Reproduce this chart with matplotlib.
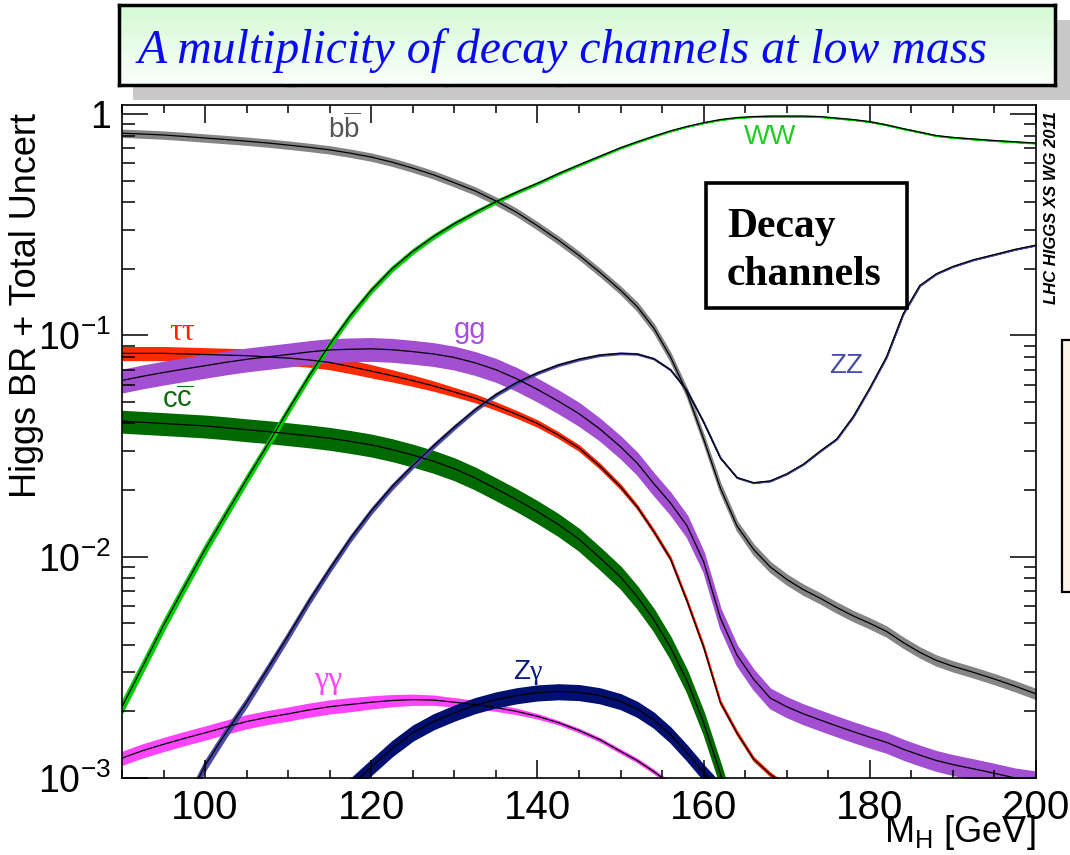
import numpy as np
import matplotlib
matplotlib.use("Agg")
import matplotlib.pyplot as plt
from matplotlib.colors import LinearSegmentedColormap
from matplotlib.patches import Rectangle
from matplotlib.ticker import MultipleLocator, LogLocator, NullFormatter

plt.rcParams["font.family"] = ["Liberation Sans", "DejaVu Sans"]
plt.rcParams["mathtext.fontset"] = "custom"
plt.rcParams["mathtext.rm"] = "Liberation Serif"
plt.rcParams["mathtext.sf"] = "Liberation Sans"

nan = np.nan

# Higgs mass grid [GeV]
mass = [90, 92.5, 95, 97.5, 100, 102.5, 105, 107.5, 110, 112.5, 115, 117.5,
        120, 122.5, 125, 127.5, 130, 132.5, 135, 137.5, 140, 142.5, 145,
        147.5, 150,
        152, 154, 156, 158, 160, 162, 164, 166, 168, 170, 172, 174, 176,
        178, 180, 182, 184, 186, 188, 190,
        192.5, 195, 197.5, 200]

# branching ratios
br_bb = [0.82, 0.813, 0.805, 0.793, 0.78, 0.768, 0.755, 0.741, 0.725, 0.708,
         0.69, 0.666, 0.64, 0.607, 0.57, 0.532, 0.49, 0.45, 0.405, 0.36,
         0.313, 0.27, 0.23, 0.193, 0.16,
         0.135, 0.108, 0.08, 0.055, 0.034, 0.0205, 0.0138, 0.0108, 0.009,
         0.0079, 0.0071, 0.0065, 0.0059, 0.0054, 0.005, 0.0046, 0.0041,
         0.0037, 0.0034, 0.0032,
         0.003, 0.0028, 0.0026, 0.0024]
br_tautau = [0.083, 0.083, 0.083, 0.0825, 0.082, 0.0815, 0.081, 0.080,
             0.079, 0.0775, 0.0755, 0.0723, 0.069, 0.0658, 0.0625, 0.0591,
             0.0555, 0.052, 0.048, 0.044, 0.040, 0.0355, 0.031, 0.0257,
             0.0207,
             0.0168, 0.013, 0.0098, 0.0063, 0.0039, 0.0022, 0.0016, 0.00122,
             0.00104, 0.00092, nan, nan, nan, nan, nan, nan, nan, nan, nan,
             nan,
             nan, nan, nan, nan]
br_cc = [0.041, 0.0405, 0.040, 0.0395, 0.039, 0.0383, 0.0375, 0.0368, 0.036,
         0.0352, 0.0343, 0.0332, 0.032, 0.0305, 0.0288, 0.027, 0.025, 0.0227,
         0.0203, 0.0181, 0.016, 0.014, 0.012, 0.0099, 0.0081,
         0.0066, 0.0052, 0.0039, 0.00275, 0.00178, 0.00105, 0.0006, nan, nan,
         nan, nan, nan, nan, nan, nan, nan, nan, nan, nan, nan,
         nan, nan, nan, nan]
br_gg = [0.0626, 0.0654, 0.068, 0.0705, 0.073, 0.0756, 0.078, 0.080, 0.082,
         0.0842, 0.086, 0.0866, 0.087, 0.0862, 0.0845, 0.0825, 0.0795,
         0.0752, 0.070, 0.0637, 0.057, 0.0505, 0.0443, 0.0378, 0.0314,
         0.0265, 0.0214, 0.0175, 0.0138, 0.0095, 0.0053, 0.0036, 0.0028,
         0.0023, 0.0021, 0.00195, 0.00183, 0.00172, 0.00162, 0.00153,
         0.00145, 0.00135, 0.00127, 0.0012, 0.00115,
         0.0011, 0.00105, 0.001, 0.00097]
br_gamgam = [0.00123, 0.00133, 0.00142, 0.00151, 0.0016, 0.0017, 0.0018,
             0.00188, 0.00195, 0.00203, 0.0021, 0.00215, 0.0022, 0.00224,
             0.00226, 0.00225, 0.0022, 0.00215, 0.00208, 0.002, 0.0019,
             0.00178, 0.00164, 0.00149, 0.00132,
             0.0012, 0.00107, 0.00094, 0.0008, nan, nan, nan, nan, nan, nan,
             nan, nan, nan, nan, nan, nan, nan, nan, nan, nan,
             nan, nan, nan, nan]
br_zgam = [nan, nan, nan, nan, nan, nan, nan, nan, nan, nan, 0.00072,
           0.00092, 0.00112, 0.00136, 0.0016, 0.0018, 0.00197, 0.00213,
           0.00226, 0.00236, 0.00243, 0.00246, 0.00244, 0.00236, 0.00222,
           0.00205, 0.00183, 0.00157, 0.0013, 0.00106, 0.00088, nan, nan, nan,
           nan, nan, nan, nan, nan, nan, nan, nan, nan, nan, nan,
           nan, nan, nan, nan]
br_ww = [0.0021, 0.0032, 0.0049, 0.0073, 0.0108, 0.0156, 0.0224, 0.032,
         0.046, 0.0655, 0.091, 0.123, 0.160, 0.200, 0.240, 0.280, 0.320,
         0.360, 0.402, 0.444, 0.487, 0.538, 0.59, 0.645, 0.705,
         0.75, 0.795, 0.84, 0.88, 0.915, 0.945, 0.965, 0.975, 0.98, 0.98,
         0.98, 0.975, 0.96, 0.945, 0.925, 0.895, 0.86, 0.83, 0.80, 0.785,
         0.772, 0.76, 0.75, 0.74]
br_zz = [nan, nan, 0.00048, 0.00074, 0.00114, 0.0016, 0.0022, 0.0031, 0.0044,
         0.0063, 0.0088, 0.0121, 0.0161, 0.0207, 0.0258, 0.0317, 0.0385,
         0.0462, 0.054, 0.0612, 0.0677, 0.0735, 0.078, 0.0815, 0.083,
         0.0825, 0.0785, 0.070, 0.0563, 0.0405, 0.028, 0.0228, 0.0216, 0.022,
         0.0237, 0.0262, 0.030, 0.034, 0.043, 0.058, 0.08, 0.125, 0.168,
         0.19, 0.205,
         0.22, 0.232, 0.245, 0.256]

# total relative uncertainty [%]
unc_bb = [3.5] * 25 + [4] * 5 + [4.5] * 2 + [5] * 17
unc_tautau = ([6.5] * 11 + [6.2, 6, 5.5, 5, 4.5, 4, 3.7, 3.5, 3.2, 3, 2.7,
                            2.5, 2.2, 2] + [1.5] * 24)
unc_cc = 11
unc_gg = [11.5] * 23 + [11] * 6 + [10] * 20
unc_gamgam = ([6.5] * 12 + [6, 5.5, 5, 4.5, 4, 3.5, 3, 2.5, 2] + [1.5] * 28)
unc_zgam = 7.5
unc_vv = [6, 5.7, 5.4, 5.1, 4.8, 4.5, 4.2, 3.9, 3.6, 3.3, 3.0, 2.8, 2.6, 2.4,
          2.2, 2.0, 1.8, 1.6, 1.4, 1.2, 1.0, 0.9, 0.8, 0.7, 0.6,
          0.5, 0.4, 0.3] + [0.2] * 21

W, H = 1070, 855


def fx(x):
    return x / W


def fy(y):
    return 1 - y / H


fig = plt.figure(figsize=(W / 100, H / 100), dpi=100)
fig.patch.set_facecolor("white")

# ---- title banner with drop shadow ----
title = "A multiplicity of decay channels at low mass"
fig.patches.append(Rectangle((fx(133), fy(100)), fx(960), 80 / H,
                             transform=fig.transFigure, facecolor="#c8c8c8",
                             edgecolor="none", zorder=-3))
fig.text(fx(152), fy(78), title, color="#b0b0b0", fontsize=34.4,
         family="Liberation Serif", style="italic", va="baseline", zorder=-2)

tax = fig.add_axes([fx(119), fy(85), fx(936), 80 / H])
grad = np.linspace(0, 1, 100).reshape(-1, 1)
tax.imshow(grad, cmap=LinearSegmentedColormap.from_list(
    "banner", ["#d4fad4", "#fbfffb"]), aspect="auto", extent=[0, 1, 0, 1])
tax.set_xticks([])
tax.set_yticks([])
for s in tax.spines.values():
    s.set_linewidth(2.5)
fig.text(fx(138), fy(63), title, color="#0a0af0", fontsize=34.4,
         family="Liberation Serif", style="italic", va="baseline", zorder=5)

# ---- main plot ----
ax = fig.add_axes([fx(122), fy(778), fx(1036 - 122), (778 - 105) / H])
ax.set_yscale("log")
ax.set_xlim(90, 200)
ax.set_ylim(1e-3, 1.1)

m = np.array(mass, float)
channels = [
    (br_bb, unc_bb, "#858585"),
    (br_tautau, unc_tautau, "#ff2a00"),
    (br_cc, unc_cc, "#006a00"),
    (br_gg, unc_gg, "#a24fd2"),
    (br_gamgam, unc_gamgam, "#ff44ff"),
    (br_zgam, unc_zgam, "#000f70"),
    (br_zz, unc_vv, "#4a4aa6"),
    (br_ww, unc_vv, "#00cc00"),
]
for vals, unc, col in channels:
    v = np.array(vals, float)
    e = np.broadcast_to(np.asarray(unc, float), v.shape) / 100
    ax.fill_between(m, v * (1 - e), v * (1 + e), facecolor=col,
                    edgecolor=col, lw=1.2)
    ax.plot(m, v, color="black", lw=0.9)

labels = [
    (116.8, 0.86, r"b$\overline{\mathsf{b}}$", "#555555", None, 20),
    (168.0, 0.787, "WW", "#22cc22", None, 20),
    (97.2, 0.103, "ττ", "#ff2200", "Liberation Serif", 23),
    (131.9, 0.106, "gg", "#a550d8", None, 21),
    (96.7, 0.0513, r"c$\overline{\mathsf{c}}$", "#0c6e0c", None, 21),
    (177.2, 0.0724, "ZZ", "#4848b0", None, 20),
    (114.8, 0.00275, "γγ", "#ff44ff", "Liberation Serif", 23),
    (138.9, 0.00299, r"Z$\mathrm{\gamma}$", "#0a1a80", None, 20),
]
for x, y, s, col, fam, size in labels:
    kw = {"family": fam} if fam else {}
    ax.text(x, y, s, color=col, fontsize=size, ha="center", va="center", **kw)

ax.set_xticks([100, 120, 140, 160, 180, 200])
ax.xaxis.set_minor_locator(MultipleLocator(5))
ax.set_yticks([1e-3, 1e-2, 1e-1, 1])
ax.set_yticklabels([r"$\mathdefault{10^{-3}}$", r"$\mathdefault{10^{-2}}$",
                    r"$\mathdefault{10^{-1}}$", "1"])
ax.yaxis.set_minor_locator(LogLocator(base=10, subs=np.arange(2, 10)))
ax.yaxis.set_minor_formatter(NullFormatter())
ax.tick_params(axis="both", which="both", direction="in", top=True,
               right=True, width=1.1, pad=8)
ax.tick_params(axis="x", which="major", length=13, labelsize=29)
ax.tick_params(axis="x", which="minor", length=6)
ax.tick_params(axis="y", which="major", length=19, labelsize=27)
ax.tick_params(axis="y", which="minor", length=9)
for s in ax.spines.values():
    s.set_linewidth(1.2)

fig.text(fx(27), fy(306), "Higgs BR + Total Uncert", rotation=90,
         ha="center", va="center", fontsize=26)
fig.text(fx(1036), fy(842), r"M$_{\mathsf{H}}$ [GeV]", ha="right",
         va="baseline", fontsize=26)

# ---- annotation boxes ----
fig.patches.append(Rectangle((fx(706), fy(308)), fx(201), 125 / H,
                             transform=fig.transFigure, facecolor="white",
                             edgecolor="black", lw=2.6, zorder=4))
fig.text(fx(727), fy(237), "Decay", fontsize=30, family="Liberation Serif",
         weight="bold", va="baseline", zorder=5)
fig.text(fx(727), fy(285), "channels", fontsize=30, family="Liberation Serif",
         weight="bold", va="baseline", zorder=5)

fig.text(fx(1052), fy(208), "LHC HIGGS XS WG 2011", rotation=90,
         ha="center", va="center", fontsize=12, weight="bold", style="italic")
fig.patches.append(Rectangle((fx(1062), fy(592)), fx(30), 252 / H,
                             transform=fig.transFigure, facecolor="#fdf4e8",
                             edgecolor="black", lw=1.6, zorder=4))

fig.savefig("out.png", dpi=100)
